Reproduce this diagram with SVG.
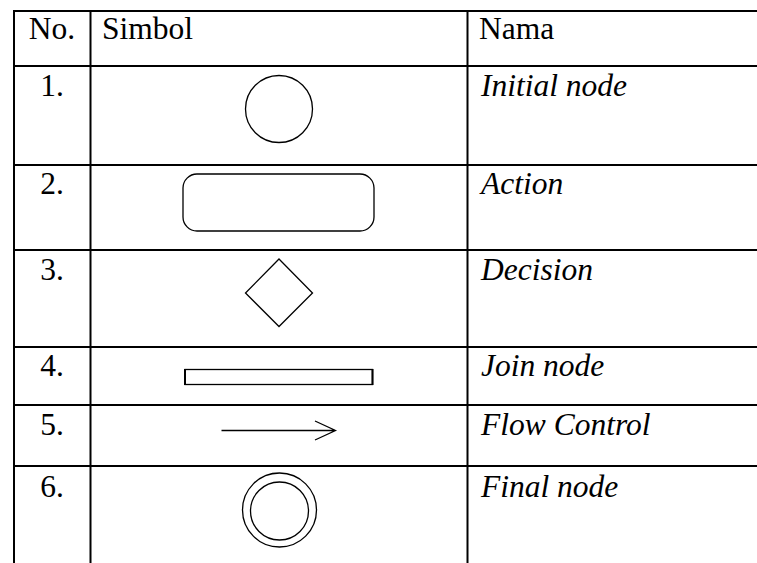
<svg xmlns="http://www.w3.org/2000/svg" width="757" height="563" viewBox="0 0 757 563">
  <style>
    .grid { stroke: #000; stroke-width: 2; fill: none; }
    .txt { font-family: 'Liberation Serif', 'Times New Roman', serif; font-size: 31.5px; fill: #000; }
    .it { font-style: italic; }
    .num { text-anchor: middle; }
    .sym { fill: none; stroke: #000; stroke-width: 1.3; }
  </style>
  <rect width="757" height="563" fill="#fff"/>

  <!-- table grid -->
  <g id="grid" class="grid">
    <line x1="14" y1="11" x2="757" y2="11"/>
    <line x1="14" y1="66" x2="757" y2="66"/>
    <line x1="14" y1="165" x2="757" y2="165"/>
    <line x1="14" y1="250" x2="757" y2="250"/>
    <line x1="14" y1="347" x2="757" y2="347"/>
    <line x1="14" y1="405" x2="757" y2="405"/>
    <line x1="14" y1="466" x2="757" y2="466"/>
    <line x1="14" y1="10" x2="14" y2="563"/>
    <line x1="90.5" y1="10" x2="90.5" y2="563"/>
    <line x1="467.5" y1="10" x2="467.5" y2="563"/>
  </g>

  <!-- header -->
  <g id="header" class="txt">
    <text x="52" y="39" class="num">No.</text>
    <text x="102" y="39">Simbol</text>
    <text x="479" y="39">Nama</text>
  </g>

  <g id="row-initial">
    <text class="txt num" x="52" y="96">1.</text>
    <circle class="sym" cx="279" cy="109" r="33.5"/>
    <text class="txt it" x="481" y="96">Initial node</text>
  </g>

  <g id="row-action">
    <text class="txt num" x="52" y="194">2.</text>
    <rect class="sym" x="183" y="174" width="191" height="57" rx="14" ry="14"/>
    <text class="txt it" x="481" y="194">Action</text>
  </g>

  <g id="row-decision">
    <text class="txt num" x="52" y="280">3.</text>
    <polygon class="sym" points="279,259 312.5,293 279,326.5 245.5,293"/>
    <text class="txt it" x="481" y="280">Decision</text>
  </g>

  <g id="row-join">
    <text class="txt num" x="52" y="376">4.</text>
    <rect class="sym" x="185" y="369.5" width="187.5" height="15" stroke-width="1"/>
    <line x1="185" y1="369" x2="185" y2="385" stroke="#000" stroke-width="2"/>
    <line x1="372.5" y1="369" x2="372.5" y2="385" stroke="#000" stroke-width="2"/>
    <text class="txt it" x="481" y="376">Join node</text>
  </g>

  <g id="row-flow">
    <text class="txt num" x="52" y="435">5.</text>
    <text class="txt it" x="481" y="435">Flow Control</text>
  </g>

  <g id="row-final">
    <text class="txt num" x="52" y="497">6.</text>
    <circle class="sym" cx="279.5" cy="510" r="37"/>
    <circle class="sym" cx="279.5" cy="511" r="29"/>
    <text class="txt it" x="481" y="497">Final node</text>
  </g>

  <!-- flow control symbol -->
  <g id="connectors">
    <path class="sym" stroke-width="1.5" d="M221.5,430.5 H335.5 M315,421 L335.5,430.5 L315,440"/>
  </g>
</svg>
